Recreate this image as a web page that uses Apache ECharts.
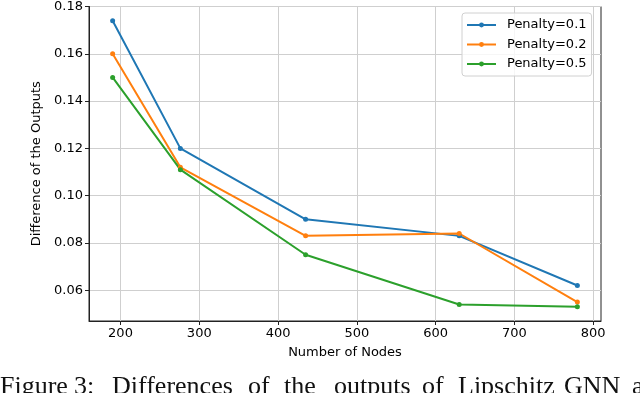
<!DOCTYPE html>
<html>
<head>
<meta charset="utf-8">
<script src="https://cdn.jsdelivr.net/npm/echarts@6/dist/echarts.min.js"></script>
<style>
  html, body { margin: 0; padding: 0; background: #fff; }
  #chart { width: 640px; height: 393px; }
</style>
</head>
<body>
<div id="chart"></div>
<script>
// values
const nodes = [190, 276, 435, 630, 780];
const penalty01 = [0.174, 0.120, 0.090, 0.083, 0.062];
const penalty02 = [0.160, 0.112, 0.083, 0.084, 0.055];
const penalty05 = [0.150, 0.111, 0.075, 0.054, 0.053];
const seriesNames = ['Penalty=0.1', 'Penalty=0.2', 'Penalty=0.5'];
const xTicks = [200, 300, 400, 500, 600, 700, 800];
const yTicks = [0.06, 0.08, 0.10, 0.12, 0.14, 0.16, 0.18];
const captionWords = ['Figure', '3:', 'Differences', 'of', 'the', 'outputs', 'of', 'Lipschitz', 'GNN', 'a'];
const captionX = [0, 74, 112, 248, 284, 334, 422, 458, 564, 632];

const colors = ['#1f77b4', '#ff7f0e', '#2ca02c'];
const font = 'DejaVu Sans';

const chart = echarts.init(document.getElementById('chart'));

const toPoints = vals => nodes.map((x, i) => [x, vals[i]]);

const mkSeries = (name, vals, i) => ({
  name: name,
  type: 'line',
  data: toPoints(vals),
  symbol: 'circle',
  symbolSize: 5,
  showSymbol: true,
  lineStyle: { width: 2, color: colors[i] },
  itemStyle: { color: colors[i] },
  emphasis: { disabled: true }
});

const option = {
  animation: false,
  textStyle: { fontFamily: font },
  grid: {
    left: 89, top: 5, right: 39, bottom: 72,
    show: true, borderColor: '#222', borderWidth: 1
  },
  legend: {
    orient: 'vertical',
    left: 462, top: 13,
    itemWidth: 29, itemHeight: 6, itemGap: 5.5,
    padding: [5, 5, 5, 4],
    borderColor: '#d0d0d0', borderWidth: 1, borderRadius: 3,
    backgroundColor: 'rgba(255,255,255,0.8)',
    textStyle: { fontFamily: font, fontSize: 13, color: '#000', lineHeight: 14, padding: [0, 0, 0, 6] },
    data: seriesNames
  },
  xAxis: {
    type: 'value',
    min: 160, max: 810,
    name: 'Number of Nodes',
    nameLocation: 'middle',
    nameGap: 25,
    nameTextStyle: { fontFamily: font, fontSize: 13, color: '#000' },
    axisLine: { show: true, lineStyle: { color: '#222', width: 1 } },
    axisTick: { show: true, inside: false, length: 4, lineStyle: { color: '#222' }, customValues: xTicks },
    axisLabel: { fontFamily: font, fontSize: 13, color: '#000', margin: 6, customValues: xTicks },
    splitLine: { show: true, lineStyle: { color: '#cfcfcf', width: 1 } }
  },
  yAxis: {
    type: 'value',
    min: 0.047, max: 0.18,
    name: 'Difference of the Outputs',
    nameLocation: 'middle',
    nameGap: 41,
    nameTextStyle: { fontFamily: font, fontSize: 13, color: '#000' },
    axisLine: { show: true, lineStyle: { color: '#222', width: 1 } },
    axisTick: { show: true, inside: false, length: 4, lineStyle: { color: '#222' }, customValues: yTicks },
    axisLabel: {
      fontFamily: font, fontSize: 13, color: '#000', margin: 6,
      customValues: yTicks,
      formatter: v => v.toFixed(2)
    },
    splitLine: { show: true, lineStyle: { color: '#cfcfcf', width: 1 } }
  },
  series: [
    mkSeries(seriesNames[0], penalty01, 0),
    mkSeries(seriesNames[1], penalty02, 1),
    mkSeries(seriesNames[2], penalty05, 2)
  ],
  graphic: captionWords.map((w, i) => ({
    type: 'text',
    left: captionX[i],
    top: 374,
    silent: true,
    style: {
      text: w,
      fontFamily: 'Liberation Serif',
      fontSize: 26,
      fill: '#111'
    }
  }))
};

chart.setOption(option);
</script>
</body>
</html>
